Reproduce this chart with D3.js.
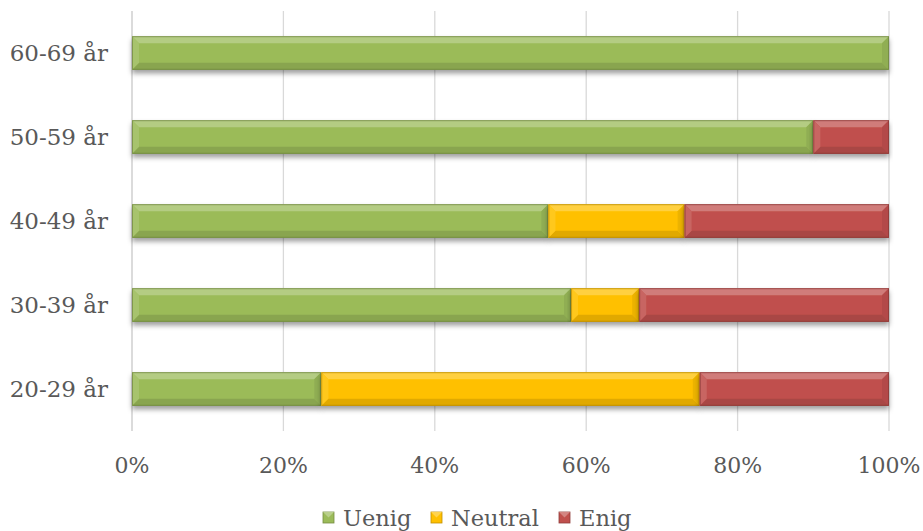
<!DOCTYPE html>
<html>
<head>
<meta charset="utf-8">
<script src="https://cdn.jsdelivr.net/npm/d3@7"></script>
<style>
  html, body { margin: 0; padding: 0; background: #fff; }
  svg { display: block; }
  text { font-family: "DejaVu Serif", serif; fill: #595959; }
</style>
</head>
<body>
<svg id="chart" width="923" height="531"></svg>
<script>
// Age groups, top to bottom
const categories = ["60-69 år", "50-59 år", "40-49 år", "30-39 år", "20-29 år"];
const seriesNames = ["Uenig", "Neutral", "Enig"];
const uenig   = [100, 90, 55, 58, 25];
const neutral = [0, 0, 18, 9, 50];
const enig    = [0, 10, 27, 33, 25];
const colors  = ["#9BBB59", "#FFC000", "#C0504D"];
const tickValues = [0, 20, 40, 60, 80, 100];

const rows = categories.map((c, i) => ({ cat: c, Uenig: uenig[i], Neutral: neutral[i], Enig: enig[i] }));
const stack = d3.stack().keys(seriesNames)(rows);

const svg = d3.select("#chart");
const margin = { left: 132, right: 34, top: 11, bottom: 100 };
const W = 923, H = 531;

const x = d3.scaleLinear().domain([0, 100]).range([margin.left, W - margin.right]);
const y = d3.scaleBand().domain(categories).range([margin.top, H - margin.bottom]).paddingInner(0.6).paddingOuter(0.3);

// Soft shadow under each bar
const defs = svg.append("defs");
const f = defs.append("filter").attr("id", "shadow").attr("x", "-5%").attr("y", "-30%").attr("width", "110%").attr("height", "190%");
f.append("feDropShadow").attr("dx", 0).attr("dy", 3.5).attr("stdDeviation", 2.4)
  .attr("flood-color", "#000").attr("flood-opacity", 0.38);

// Vertical gridlines
svg.append("g").selectAll("line").data(tickValues).join("line")
  .attr("x1", d => x(d)).attr("x2", d => x(d))
  .attr("y1", margin.top).attr("y2", H - margin.bottom)
  .attr("stroke", (d, i) => i === 0 ? "#c8c8c8" : "#d9d9d9").attr("stroke-width", 1.3);

// X axis tick labels
svg.append("g").selectAll("text").data(tickValues).join("text")
  .attr("x", d => x(d)).attr("y", 473)
  .attr("text-anchor", "middle").attr("font-size", 22)
  .text(d => d + "%");

// Category labels
svg.append("g").selectAll("text").data(categories).join("text")
  .attr("x", 108).attr("y", d => y(d) + y.bandwidth() / 2 + 8)
  .attr("text-anchor", "end").attr("font-size", 23)
  .text(d => d);

// Bevelled bar segments
function bevel(g, x0, x1, y0, y1, color) {
  const w = x1 - x0, h = y1 - y0;
  if (w <= 0) return;
  const b = Math.min(7, w / 2, h / 2);
  const base = d3.color(color);
  const seg = g.append("g").attr("filter", "url(#shadow)");
  seg.append("rect").attr("x", x0).attr("y", y0).attr("width", w).attr("height", h).attr("fill", base.formatHex());
  const poly = (pts, fill) => seg.append("polygon").attr("points", pts.map(p => p.join(",")).join(" ")).attr("fill", fill);
  poly([[x0, y0], [x1, y0], [x1 - b, y0 + b], [x0 + b, y0 + b]], d3.interpolateRgb(base, "#fff")(0.25));
  poly([[x0, y1], [x1, y1], [x1 - b, y1 - b], [x0 + b, y1 - b]], base.darker(0.35).formatHex());
  poly([[x0, y0], [x0 + b, y0 + b], [x0 + b, y1 - b], [x0, y1]], d3.interpolateRgb(base, "#fff")(0.12));
  poly([[x1, y0], [x1 - b, y0 + b], [x1 - b, y1 - b], [x1, y1]], base.darker(0.2).formatHex());
  seg.append("rect").attr("x", x0 + 0.5).attr("y", y0 + 0.5).attr("width", w - 1).attr("height", h - 1)
    .attr("fill", "none").attr("stroke", base.darker(1.2).formatHex()).attr("stroke-opacity", 0.6).attr("stroke-width", 1);
}

const barsG = svg.append("g");
stack.forEach((layer, si) => {
  layer.forEach(d => {
    bevel(barsG, x(d[0]), x(d[1]), y(d.data.cat), y(d.data.cat) + y.bandwidth(), colors[si]);
  });
});

// Legend
const legend = svg.append("g");
const items = [{ name: "Uenig", x: 323 }, { name: "Neutral", x: 431 }, { name: "Enig", x: 559 }];
items.forEach((it, i) => {
  const c = d3.color(colors[i]);
  legend.append("rect").attr("x", it.x).attr("y", 512).attr("width", 11).attr("height", 11)
    .attr("fill", c.formatHex()).attr("stroke", c.darker(0.8).formatHex()).attr("stroke-width", 0.8);
  legend.append("polygon")
    .attr("points", `${it.x},512 ${it.x + 11},512 ${it.x + 5.5},517.5`)
    .attr("fill", d3.interpolateRgb(c, "#fff")(0.3));
  legend.append("text").attr("x", it.x + 20).attr("y", 526).attr("font-size", 22.5).text(it.name);
});
</script>
</body>
</html>
